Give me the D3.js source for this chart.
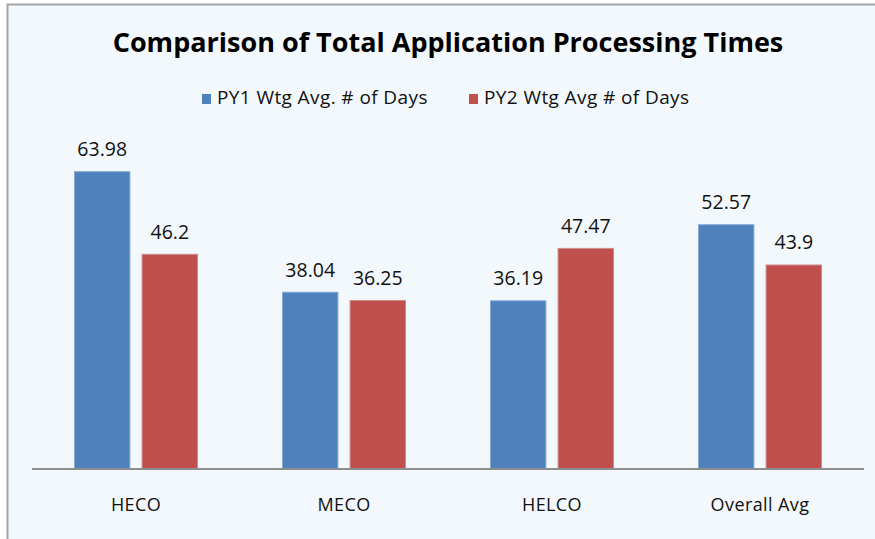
<!DOCTYPE html>
<html><head><meta charset="utf-8">
<script src="https://cdn.jsdelivr.net/npm/d3@7"></script>
<style>body{margin:0;background:#fff}svg{display:block}</style>
</head><body>
<svg id="c" width="875" height="539"></svg>
<script>
const categories = ["HECO", "MECO", "HELCO", "Overall Avg"];
const seriesNames = ["PY1 Wtg Avg. # of Days", "PY2 Wtg Avg # of Days"];
const py1 = [63.98, 38.04, 36.19, 52.57];
const py2 = [46.2, 36.25, 47.47, 43.9];
const colors = ["#4f81bd", "#c0504d"];

const svg = d3.select("#c");
const font = "'Open Sans', sans-serif";
svg.append("rect").attr("x", 7.5).attr("y", 4.5).attr("width", 880).attr("height", 545)
  .attr("fill", "#f3f8fc").attr("stroke", "#a6a6a6").attr("stroke-width", 2);

const x0 = d3.scaleBand().domain(categories).range([32, 864]).paddingInner(0).paddingOuter(0);
const x1 = d3.scaleBand().domain([0, 1]).range([0, 123]).paddingInner(0.18);
const y = d3.scaleLinear().domain([0, 80]).range([469, 469 - 80 * 4.647]);

const data = categories.map((c, i) => ({c, v: [py1[i], py2[i]]}));
const g = svg.append("g");
data.forEach(d => {
  const off = x0(d.c) + (x0.bandwidth() - 123) / 2;
  d.v.forEach((v, s) => {
    const bx = off + x1(s);
    g.append("rect").attr("x", bx).attr("y", y(v)).attr("width", x1.bandwidth()).attr("height", y(0) - y(v))
      .attr("fill", colors[s]).attr("stroke", s ? "#d08a88" : "#86a8d4").attr("stroke-width", 1);
    g.append("text").attr("x", bx + x1.bandwidth() / 2).attr("y", y(v) - 15.5)
      .attr("text-anchor", "middle").attr("font-family", font).attr("font-size", 19.5)
      .attr("fill", "#111").text(v);
  });
});

const xAxis = d3.axisBottom(x0).tickSize(0).tickPadding(0);
const ax = svg.append("g").attr("transform", "translate(0,469)").call(xAxis);
ax.select(".domain").attr("stroke", "#8c8c8c").attr("stroke-width", 2).attr("d", "M32,0H864");
ax.selectAll("text").attr("y", 42).attr("dy", 0).attr("font-family", font).attr("font-size", 18)
  .attr("letter-spacing", 0.4).attr("fill", "#111");

svg.append("text").attr("x", 448).attr("y", 52).attr("text-anchor", "middle")
  .attr("font-family", font).attr("font-weight", "bold").attr("font-size", 27).attr("fill", "#000")
  .text("Comparison of Total Application Processing Times");

const legX = [202, 469];
seriesNames.forEach((n, i) => {
  svg.append("rect").attr("x", legX[i]).attr("y", 94).attr("width", 9).attr("height", 10).attr("fill", colors[i]);
  svg.append("text").attr("x", legX[i] + 15).attr("y", 104).attr("font-family", font).attr("font-size", 19)
    .attr("letter-spacing", 0.4).attr("fill", "#111").text(n);
});
</script>
</body></html>
